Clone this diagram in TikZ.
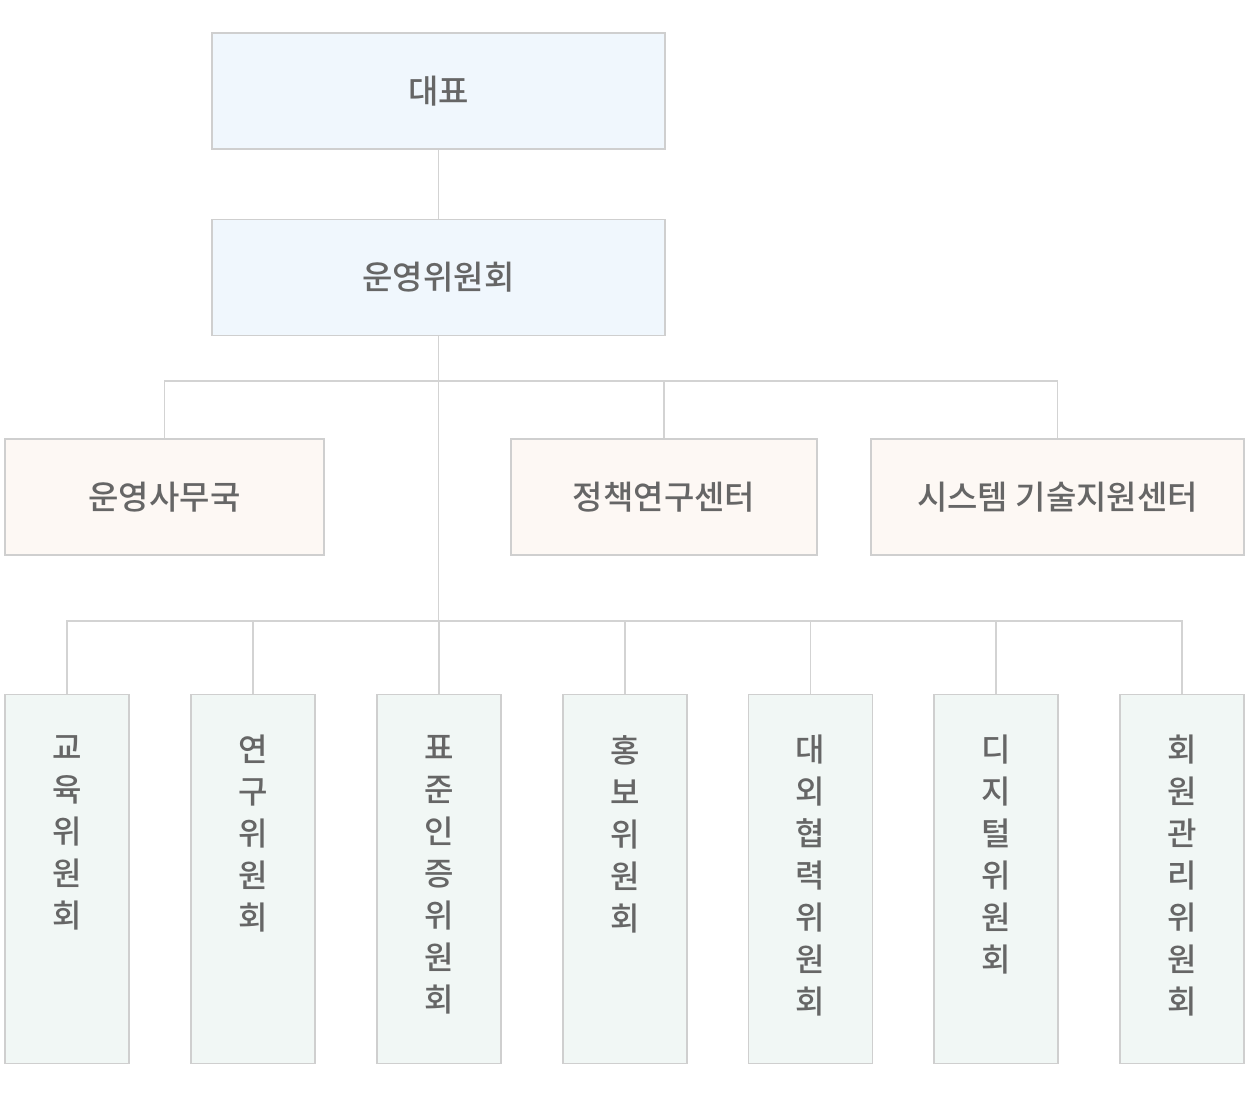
\documentclass[tikz,border=0pt]{standalone}
\usepackage{fontspec}
\setmainfont{Noto Sans CJK KR Medium}
\definecolor{txt}{HTML}{666666}
\definecolor{edge}{HTML}{CFCFCF}
\definecolor{lineC}{HTML}{D3D3D3}
\definecolor{fblue}{HTML}{F0F7FD}
\definecolor{fpeach}{HTML}{FDF8F4}
\definecolor{fgreen}{HTML}{F1F7F5}
\begin{document}
\begin{tikzpicture}[x=1pt,y=-1pt,
  boxbase/.style={draw=edge,line width=1.3pt,inner sep=0pt,text=txt,font=\fontsize{33}{42}\selectfont},
  topbox/.style={boxbase,fill=fblue,minimum width=453pt,minimum height=116pt},
  midbox/.style={boxbase,fill=fpeach,minimum height=116pt},
  vbox/.style={draw=edge,line width=1.3pt,fill=fgreen,minimum width=124pt,minimum height=369pt,anchor=north,inner sep=0pt},
  vtext/.style={anchor=north,inner sep=0pt,align=center,text=txt,font=\fontsize{32}{42}\selectfont},
  conn/.style={draw=lineC,line width=1.3pt}]
\useasboundingbox (0,0) rectangle (1250,1096);
\node[topbox] (ceo) at (438.5,91) {대표};
\node[topbox] (opc) at (438.5,277.5) {운영위원회};
\node[midbox,minimum width=319pt] (office) at (164.5,497) {운영사무국};
\node[midbox,minimum width=306pt] (policy) at (664,497) {정책연구센터};
\node[midbox,minimum width=373pt] (system) at (1057.5,497) {시스템 기술지원센터};
\coordinate (j1) at (438.5,381);
\coordinate (j2) at (438.5,621);
\draw[conn] (ceo.south) -- (opc.north);
\draw[conn] (opc.south) -- (j2);
\draw[conn] (office.north) |- (j1) -| (system.north);
\draw[conn] (policy.north) -- (policy.north |- j1);
% bottom committees
\foreach \n/\x/\t in {c1/67/교\\육\\위\\원\\회,
                      c2/253/연\\구\\위\\원\\회,
                      c3/439/표\\준\\인\\증\\위\\원\\회,
                      c4/625/홍\\보\\위\\원\\회,
                      c5/810.5/대\\외\\협\\력\\위\\원\\회,
                      c6/996/디\\지\\털\\위\\원\\회,
                      c7/1182/회\\원\\관\\리\\위\\원\\회}{
  \node[vbox] (\n) at (\x,693.5) {};
  \node[vtext] (\n t) at (\x,735) {\t};
}
\draw[conn] (c1.north) |- (j2) -| (c7.north);
\foreach \n in {c2,c3,c4,c5,c6}{
  \draw[conn] (\n.north) -- (\n.north |- j2);
}
\end{tikzpicture}
\end{document}
